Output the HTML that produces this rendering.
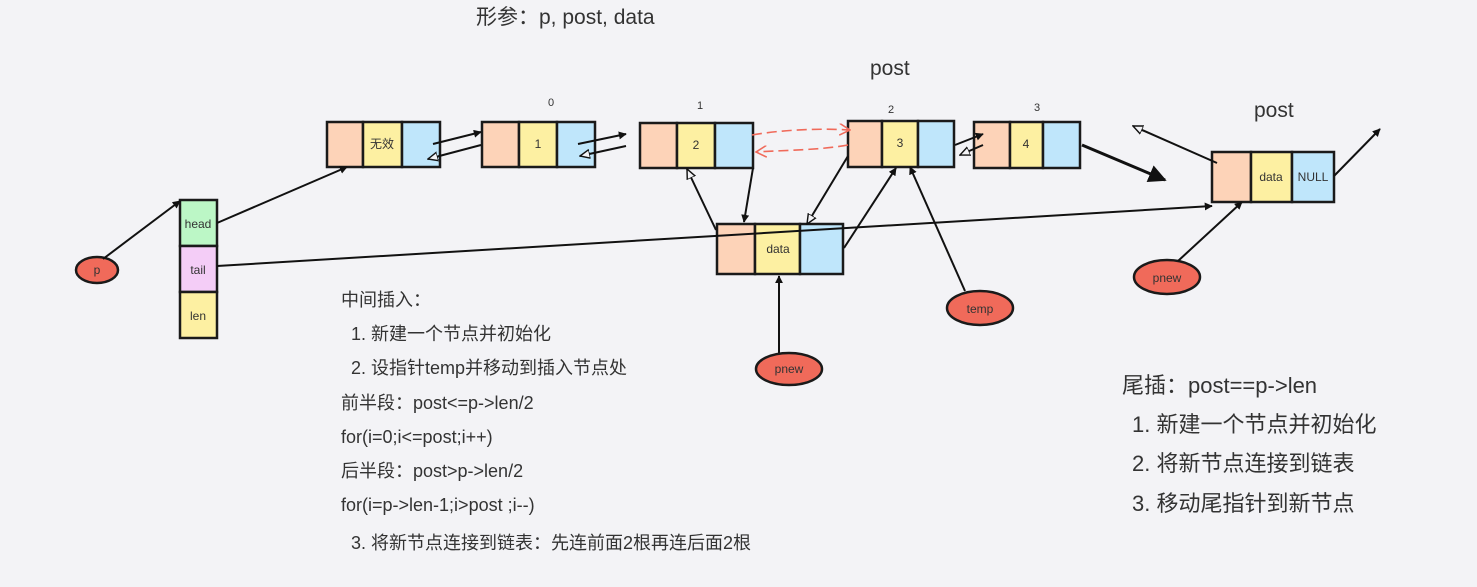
<!DOCTYPE html>
<html><head><meta charset="utf-8"><style>
html,body{margin:0;padding:0;background:#f3f3f6;}
svg{display:block;}
text{font-family:"Liberation Sans","Noto Sans CJK SC",sans-serif;fill:#333;}
.s{font-size:12px;}
.t{font-size:21px;}
</style></head><body>
<svg width="1477" height="587" viewBox="0 0 1477 587" xmlns="http://www.w3.org/2000/svg">
<defs>
<marker id="a" viewBox="0 0 10 10" refX="9" refY="5" markerWidth="8" markerHeight="8" orient="auto-start-reverse" markerUnits="userSpaceOnUse"><path d="M0,0 L10,5 L0,10 z" fill="#111"/></marker>
<marker id="ab" viewBox="0 0 10 10" refX="9" refY="5" markerWidth="18" markerHeight="18" orient="auto" markerUnits="userSpaceOnUse"><path d="M0,0 L10,5 L0,10 z" fill="#111"/></marker>
<marker id="o" viewBox="0 0 10 10" refX="9" refY="5" markerWidth="11" markerHeight="11" orient="auto" markerUnits="userSpaceOnUse"><path d="M0,1 L9,5 L0,9 z" fill="#f3f3f6" stroke="#111" stroke-width="1.3"/></marker>
<marker id="r" viewBox="0 0 10 10" refX="9" refY="5" markerWidth="12" markerHeight="12" orient="auto" markerUnits="userSpaceOnUse"><path d="M0,0 L9,5 L0,10" fill="none" stroke="#f06a5a" stroke-width="1.3"/></marker>
</defs>
<g stroke="#1a1a1a" stroke-width="2.5">
<!-- node 无效 -->
<rect x="327" y="122" width="36" height="45" fill="#fdd3b8"/><rect x="363" y="122" width="39" height="45" fill="#fdf0a2"/><rect x="402" y="122" width="38" height="45" fill="#bfe6fb"/>
<!-- node 1 -->
<rect x="482" y="122" width="37" height="45" fill="#fdd3b8"/><rect x="519" y="122" width="38" height="45" fill="#fdf0a2"/><rect x="557" y="122" width="38" height="45" fill="#bfe6fb"/>
<!-- node 2 -->
<rect x="640" y="123" width="37" height="45" fill="#fdd3b8"/><rect x="677" y="123" width="38" height="45" fill="#fdf0a2"/><rect x="715" y="123" width="38" height="45" fill="#bfe6fb"/>
<!-- node 3 -->
<rect x="848" y="121" width="34" height="46" fill="#fdd3b8"/><rect x="882" y="121" width="36" height="46" fill="#fdf0a2"/><rect x="918" y="121" width="36" height="46" fill="#bfe6fb"/>
<!-- node 4 -->
<rect x="974" y="122" width="36" height="46" fill="#fdd3b8"/><rect x="1010" y="122" width="33" height="46" fill="#fdf0a2"/><rect x="1043" y="122" width="37" height="46" fill="#bfe6fb"/>
<!-- tail node -->
<rect x="1212" y="152" width="39" height="50" fill="#fdd3b8"/><rect x="1251" y="152" width="41" height="50" fill="#fdf0a2"/><rect x="1292" y="152" width="42" height="50" fill="#bfe6fb"/>
<!-- new node -->
<rect x="717" y="224" width="38" height="50" fill="#fdd3b8"/><rect x="755" y="224" width="45" height="50" fill="#fdf0a2"/><rect x="800" y="224" width="43" height="50" fill="#bfe6fb"/>
<!-- struct -->
<rect x="180" y="200" width="37" height="46" fill="#bcf7c6"/><rect x="180" y="246" width="37" height="46" fill="#f4cdf7"/><rect x="180" y="292" width="37" height="46" fill="#fdf0a2"/>
<!-- ellipses -->
<ellipse cx="97" cy="270" rx="21" ry="13" fill="#f06a5a"/>
<ellipse cx="789" cy="369" rx="33" ry="16" fill="#f06a5a"/>
<ellipse cx="980" cy="308" rx="33" ry="17" fill="#f06a5a"/>
<ellipse cx="1167" cy="277" rx="33" ry="17" fill="#f06a5a"/>
</g>
<g stroke="#111" stroke-width="2" fill="none">
<line x1="103" y1="259" x2="180" y2="201" marker-end="url(#a)"/>
<line x1="217" y1="223" x2="347" y2="167" marker-end="url(#a)"/>
<line x1="217" y1="266" x2="1212" y2="206" marker-end="url(#a)"/>
<line x1="433" y1="144" x2="481" y2="132" marker-end="url(#a)"/>
<line x1="481" y1="145" x2="428" y2="159" marker-end="url(#o)"/>
<line x1="578" y1="144" x2="626" y2="134" marker-end="url(#a)"/>
<line x1="626" y1="146" x2="580" y2="156" marker-end="url(#o)"/>
<line x1="955" y1="145" x2="983" y2="134" marker-end="url(#a)"/>
<line x1="983" y1="145" x2="960" y2="155" marker-end="url(#o)"/>
<line x1="1082" y1="145" x2="1165" y2="180" stroke-width="3" marker-end="url(#ab)"/>
<line x1="1217" y1="163" x2="1133" y2="126" marker-end="url(#o)"/>
<line x1="1334" y1="176" x2="1380" y2="129" marker-end="url(#a)"/>
<line x1="1178" y1="261" x2="1242" y2="202" marker-end="url(#a)"/>
<line x1="753" y1="168" x2="744" y2="222" marker-end="url(#a)"/>
<line x1="716" y1="230" x2="687" y2="169" marker-end="url(#o)"/>
<line x1="844" y1="248" x2="896" y2="168" marker-end="url(#a)"/>
<line x1="848" y1="156" x2="807" y2="224" marker-end="url(#o)"/>
<line x1="965" y1="291" x2="910" y2="167" marker-end="url(#a)"/>
<line x1="779" y1="353" x2="779" y2="276" marker-end="url(#a)"/>
</g>
<g stroke="#f06a5a" stroke-width="1.6" fill="none" stroke-dasharray="10,5">
<path d="M752,135 C780,130 820,128 850,130" marker-end="url(#r)"/>
<path d="M848,145 C820,150 790,150 756,152" marker-end="url(#r)"/>
</g>
<text class="s" x="382" y="148" text-anchor="middle" font-size="12">无效</text>
<text class="s" x="538" y="148" text-anchor="middle">1</text>
<text class="s" x="696" y="149" text-anchor="middle">2</text>
<text class="s" x="900" y="147" text-anchor="middle">3</text>
<text class="s" x="1026" y="148" text-anchor="middle">4</text>
<text class="s" x="1271" y="181" text-anchor="middle">data</text>
<text class="s" x="1313" y="181" text-anchor="middle" font-size="11">NULL</text>
<text class="s" x="778" y="253" text-anchor="middle">data</text>
<text class="s" x="198" y="228" text-anchor="middle">head</text>
<text class="s" x="198" y="274" text-anchor="middle">tail</text>
<text class="s" x="198" y="320" text-anchor="middle">len</text>
<text class="s" x="97" y="274" text-anchor="middle" font-size="11">p</text>
<text class="s" x="789" y="373" text-anchor="middle">pnew</text>
<text class="s" x="980" y="313" text-anchor="middle">temp</text>
<text class="s" x="1167" y="282" text-anchor="middle">pnew</text>
<text x="551" y="106" font-size="11" text-anchor="middle">0</text>
<text x="700" y="109" font-size="11" text-anchor="middle">1</text>
<text x="891" y="113" font-size="11" text-anchor="middle">2</text>
<text x="1037" y="111" font-size="11" text-anchor="middle">3</text>
<text class="t" x="476" y="24" font-size="24">形参：p, post, data</text>
<text class="t" x="870" y="75" font-size="24">post</text>
<text class="t" x="1254" y="117" font-size="24">post</text>
<g font-size="18">
<text x="341" y="306">中间插入：</text>
<text x="351" y="340">1.  新建一个节点并初始化</text>
<text x="351" y="374">2.  设指针temp并移动到插入节点处</text>
<text x="341" y="409">前半段：post&lt;=p-&gt;len/2</text>
<text x="341" y="443">for(i=0;i&lt;=post;i++)</text>
<text x="341" y="477">后半段：post&gt;p-&gt;len/2</text>
<text x="341" y="511">for(i=p-&gt;len-1;i&gt;post ;i--)</text>
<text x="351" y="549">3.  将新节点连接到链表：先连前面2根再连后面2根</text>
</g>
<g font-size="22">
<text x="1122" y="393">尾插：post==p-&gt;len</text>
<text x="1132" y="432">1.  新建一个节点并初始化</text>
<text x="1132" y="471">2.  将新节点连接到链表</text>
<text x="1132" y="511">3.  移动尾指针到新节点</text>
</g>
</svg>
</body></html>
